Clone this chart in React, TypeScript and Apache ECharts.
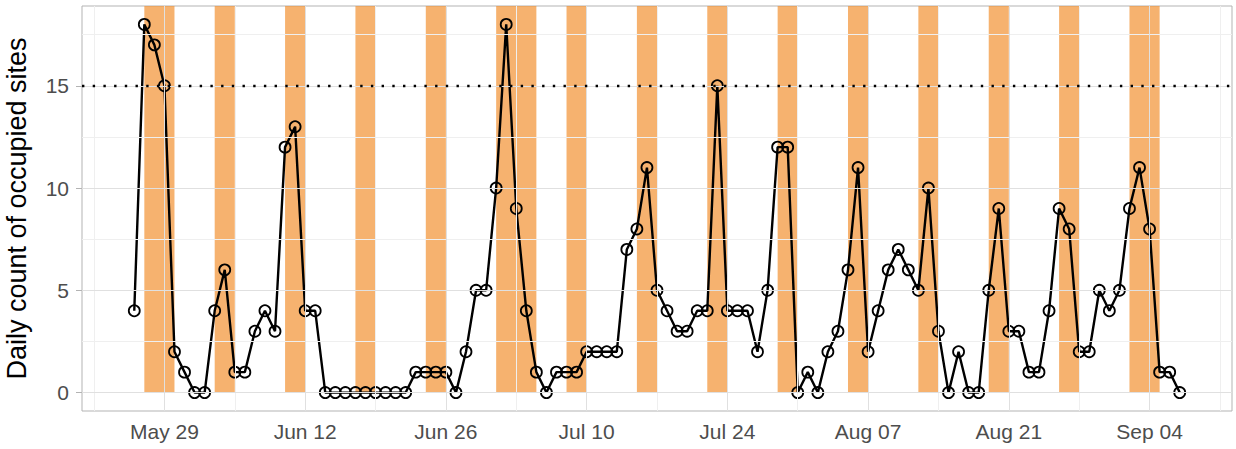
import React, { useEffect, useRef } from "react";
import * as echarts from "echarts";

const startDate = "2023-05-26";
const counts = [
  4, 18, 17, 15, 2, 1, 0, 0, 4, 6, 1, 1, 3, 4, 3, 12,
  13, 4, 4, 0, 0, 0, 0, 0, 0, 0, 0, 0, 1, 1, 1, 1, 0, 2,
  5, 5, 10, 18, 9, 4, 1, 0, 1, 1, 1, 2, 2, 2, 2, 7, 8, 11, 5,
  4, 3, 3, 4, 4, 15, 4, 4, 4, 2, 5, 12, 12, 0, 1, 0, 2, 3,
  6, 11, 2, 4, 6, 7, 6, 5, 10, 3, 0, 2, 0, 0, 5, 9, 3, 3,
  1, 1, 4, 9, 8, 2, 2, 5, 4, 5, 9, 11, 8, 1, 1, 0,
];

const bandStarts = [
  "2023-05-27", "2023-06-03", "2023-06-10", "2023-06-17", "2023-06-24",
  "2023-07-01", "2023-07-08", "2023-07-15", "2023-07-22", "2023-07-29",
  "2023-08-05", "2023-08-12", "2023-08-19", "2023-08-26", "2023-09-02",
];
const bandEnds = [
  "2023-05-30", "2023-06-05", "2023-06-12", "2023-06-19", "2023-06-26",
  "2023-07-05", "2023-07-10", "2023-07-17", "2023-07-24", "2023-07-31",
  "2023-08-07", "2023-08-14", "2023-08-21", "2023-08-28", "2023-09-05",
];

const majorTickDates = [
  "2023-05-29", "2023-06-12", "2023-06-26", "2023-07-10",
  "2023-07-24", "2023-08-07", "2023-08-21", "2023-09-04",
];
const minorTickDates = [
  "2023-05-22", "2023-06-05", "2023-06-19", "2023-07-03", "2023-07-17",
  "2023-07-31", "2023-08-14", "2023-08-28", "2023-09-11",
];
const yMajorTicks = [0, 5, 10, 15];
const yMinorTicks = [2.5, 7.5, 12.5, 17.5];
const threshold = 15;
const yTitle = "Daily count of occupied sites";

const MONTHS = ["Jan", "Feb", "Mar", "Apr", "May", "Jun", "Jul", "Aug", "Sep", "Oct", "Nov", "Dec"];
const DAY = 86400000;
const ts = (s: string) => Date.parse(s + "T00:00:00Z");

export default function App() {
  const ref = useRef<HTMLDivElement>(null);
  useEffect(() => {
    if (!ref.current) return;
    const chart = echarts.init(ref.current, undefined, { renderer: "svg" });
    const t0 = ts(startDate);
    const points = counts.map((v, i) => [t0 + i * DAY, v]);
    const tFirst = points[0][0] as number;
    const tLast = points[points.length - 1][0] as number;
    const xPad = (tLast - tFirst) * 0.05;
    const yMinData = 0;
    const yMaxData = Math.max(...counts);
    const yPad = (yMaxData - yMinData) * 0.05;
    const yMin = yMinData - yPad;
    const yMax = yMaxData + yPad;
    const font = "'Liberation Sans', Arial, Helvetica, sans-serif";
    const majorStyle = { color: "#E0E0E0", width: 1, type: "solid" as const };
    const minorStyle = { color: "#EFEFEF", width: 1, type: "solid" as const };

    const gridLines = [
      ...minorTickDates.map((d) => ({ xAxis: ts(d), lineStyle: minorStyle })),
      ...yMinorTicks.map((v) => ({ yAxis: v, lineStyle: minorStyle })),
      ...majorTickDates.map((d) => ({ xAxis: ts(d), lineStyle: majorStyle })),
      ...yMajorTicks.map((v) => ({ yAxis: v, lineStyle: majorStyle })),
    ];

    chart.setOption({
      animation: false,
      backgroundColor: "#ffffff",
      grid: {
        left: 82,
        right: 4,
        top: 6,
        bottom: 38,
        containLabel: false,
        outerBoundsMode: "none",
        show: true,
        borderColor: "#B3B3B3",
        borderWidth: 1,
        backgroundColor: "#ffffff",
      },
      xAxis: {
        type: "value",
        min: tFirst - xPad,
        max: tLast + xPad,
        axisLine: { show: false },
        splitLine: { show: false },
        axisTick: {
          show: true,
          length: 6,
          customValues: majorTickDates.map(ts),
          lineStyle: { color: "#B3B3B3", width: 1 },
        },
        axisLabel: {
          customValues: majorTickDates.map(ts),
          color: "#4D4D4D",
          fontSize: 21,
          fontFamily: font,
          margin: 10,
          formatter: (v: number) => {
            const d = new Date(v);
            return MONTHS[d.getUTCMonth()] + " " + String(d.getUTCDate()).padStart(2, "0");
          },
        },
      },
      yAxis: {
        type: "value",
        min: yMin,
        max: yMax,
        axisLine: { show: false },
        splitLine: { show: false },
        axisTick: {
          show: true,
          length: 6,
          customValues: yMajorTicks,
          lineStyle: { color: "#B3B3B3", width: 1 },
        },
        axisLabel: {
          customValues: yMajorTicks,
          color: "#4D4D4D",
          fontSize: 21,
          fontFamily: font,
          margin: 13,
          formatter: (v: number) => String(Math.round(v)),
        },
        name: yTitle,
        nameLocation: "middle",
        nameGap: 52,
        nameTextStyle: { color: "#000000", fontSize: 27, fontFamily: font },
      },
      series: [
        {
          type: "line",
          name: "grid",
          data: [],
          z: 1,
          silent: true,
          markLine: {
            silent: true,
            symbol: ["none", "none"],
            label: { show: false },
            emphasis: { disabled: true },
            data: gridLines,
          },
        },
        {
          type: "line",
          name: "weekends",
          data: [],
          z: 2,
          silent: true,
          markArea: {
            silent: true,
            itemStyle: { color: "rgba(242,142,43,0.68)", borderWidth: 0 },
            emphasis: { disabled: true },
            data: bandStarts.map((s, k) => [
              { xAxis: ts(s), yAxis: 0 },
              { xAxis: ts(bandEnds[k]), yAxis: yMax },
            ]),
          },
        },
        {
          type: "line",
          name: "threshold",
          data: [],
          z: 3,
          silent: true,
          markLine: {
            silent: true,
            symbol: ["none", "none"],
            label: { show: false },
            emphasis: { disabled: true },
            lineStyle: { color: "#000000", width: 2.4, type: [2.4, 8.3] },
            data: [{ yAxis: threshold }],
          },
        },
        {
          type: "line",
          name: "count",
          data: points,
          z: 4,
          symbol: "circle",
          symbolSize: 11,
          showSymbol: true,
          lineStyle: { color: "#000000", width: 2.4 },
          itemStyle: { color: "rgba(0,0,0,0)", borderColor: "#000000", borderWidth: 1.8 },
          emphasis: { disabled: true },
        },
      ],
    });
    return () => chart.dispose();
  }, []);
  return (
    <div
      ref={ref}
      style={{ position: "fixed", left: 0, top: 0, width: 1236, height: 449 }}
    />
  );
}
